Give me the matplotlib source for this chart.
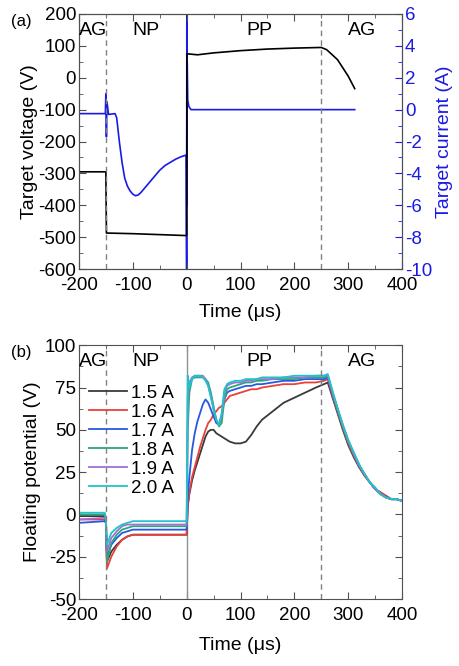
import numpy as np
import matplotlib.pyplot as plt
from matplotlib.ticker import MultipleLocator

plt.rcParams['font.family'] = ['Liberation Sans', 'DejaVu Sans']
plt.rcParams['font.size'] = 13.5
plt.rcParams['axes.unicode_minus'] = False

# ---- panel (a): target voltage / current ----
t_volt = [-200, -150, -149, -100, -50, 0, 0.5, 2, 20, 50, 100, 150, 200, 250, 260, 280, 300, 312]
volt = [-295, -295, -487, -489, -492, -495, 75, 75, 72, 78, 85, 90, 93, 95, 88, 57, 5, -34]

t_curr = [-200, -155, -151, -150, -149, -148, -145, -133, -130, -125, -120, -115, -110, -105,
          -100, -95, -90, -85, -80, -70, -60, -50, -40, -30, -20, -10, -1,
          0, 0.3, 0.6, 1, 2, 4, 8, 20, 100, 200, 312]
curr = [-0.25, -0.25, -0.25, 1.0, -1.7, 0.5, -0.3, -0.25, -0.5, -2.0, -3.3, -4.3, -4.8, -5.1,
        -5.3, -5.4, -5.35, -5.2, -5.0, -4.6, -4.2, -3.8, -3.5, -3.3, -3.1, -2.95, -2.85,
        -10, 6, -6, 3, 0.6, 0.2, 0, 0, 0, 0, 0]

# ---- panel (b): floating potential ----
t_float = [-200, -152, -150, -148, -140, -130, -120, -110, -100, -80, -50, -1, 0, 2, 5, 10, 15, 20,
           25, 30, 35, 40, 45, 50, 55, 60, 65, 70, 75, 80, 90, 100, 110, 120, 130, 140, 160, 180,
           200, 220, 240, 255, 262, 270, 280, 290, 300, 310, 320, 330, 340, 350, 360, 370, 380,
           390, 400]
labels = ['1.5 A', '1.6 A', '1.7 A', '1.8 A', '1.9 A', '2.0 A']
colors = ['#3a3a3a', '#e8403a', '#2858e0', '#2aa87a', '#a070d8', '#1ec4c8']
fp_15 = [-1, -1, -5, -28, -22, -18, -15, -13, -12, -12, -12, -12, -12, 5, 12, 20, 26, 31,
         36, 41, 46, 49, 50, 50, 48, 47, 46, 45, 44, 43, 42, 42, 43, 47, 52, 56, 61, 66,
         69, 72, 75, 77, 78, 70, 60, 50, 41, 34, 28, 23, 19, 15, 13, 11, 9, 9, 8]
fp_16 = [-3, -3, -5, -32, -25, -19, -15, -13, -12, -12, -12, -12, -12, 5, 13, 22, 28, 34,
         40, 45, 50, 54, 56, 59, 61, 63, 64, 66, 68, 70, 71, 72, 73, 74, 74, 75, 76, 77,
         77, 78, 78, 79, 80, 71, 61, 51, 42, 35, 29, 23, 19, 15, 13, 11, 9, 9, 8]
fp_17 = [-5, -4, -5, -25, -18, -14, -11, -10, -9, -9, -9, -9, -9, 10, 22, 38, 48, 55,
         60, 65, 68, 66, 62, 58, 54, 53, 58, 68, 72, 73, 74, 75, 76, 76, 77, 77, 78, 79,
         79, 80, 80, 80, 81, 72, 62, 52, 43, 36, 29, 24, 19, 15, 12, 10, 9, 9, 8]
fp_18 = [0, 0, -3, -28, -17, -12, -9, -8, -7, -7, -7, -7, -7, 50, 72, 80, 81, 81,
         81, 81, 80, 78, 72, 64, 56, 52, 54, 68, 74, 75, 76, 77, 78, 78, 79, 79, 80, 80,
         80, 81, 81, 81, 82, 73, 62, 52, 43, 36, 29, 24, 19, 15, 12, 10, 9, 9, 8]
fp_19 = [-3, -2, -3, -22, -14, -10, -7, -6, -6, -6, -6, -6, -6, 70, 78, 81, 82, 82,
         82, 82, 80, 76, 70, 62, 56, 53, 58, 72, 76, 77, 78, 78, 79, 79, 80, 80, 80, 81,
         81, 81, 82, 82, 82, 73, 63, 53, 44, 36, 29, 24, 19, 15, 12, 10, 9, 9, 8]
fp_20 = [1, 1, -2, -18, -11, -8, -6, -5, -4, -4, -4, -4, -4, 82, 75, 80, 82, 82,
         82, 81, 79, 76, 69, 62, 56, 53, 60, 74, 77, 78, 79, 79, 80, 80, 80, 81, 81, 81,
         82, 82, 82, 82, 83, 74, 63, 53, 44, 37, 30, 24, 19, 16, 12, 10, 9, 9, 8]
fp_all = [fp_15, fp_16, fp_17, fp_18, fp_19, fp_20]

regions = ['AG', 'NP', 'PP', 'AG']
region_x = [-173, -76, 135, 326]
bounds = [-150, 250]

blue = '#1a1ae6'
frame = '#505050'

fig = plt.figure(figsize=(4.59, 6.66), dpi=100)
ax1 = fig.add_axes([0.172, 0.596, 0.704, 0.383])
ax2 = fig.add_axes([0.172, 0.1006, 0.704, 0.381])


def style(ax, right=True, xpad=8):
    for s in ax.spines.values():
        s.set_color(frame)
    ax.tick_params(which='both', direction='in', top=True, right=right, colors=frame,
                   labelcolor='black', labelsize=13.5)
    ax.tick_params(which='major', length=5)
    ax.tick_params(which='minor', length=3)
    ax.tick_params(axis='x', pad=6)
    ax.tick_params(axis='y', pad=2)
    ax.set_xlim(-200, 400)
    ax.xaxis.set_major_locator(MultipleLocator(100))
    ax.xaxis.set_minor_locator(MultipleLocator(50))
    for b in bounds:
        ax.axvline(b, color='#808080', ls='--', lw=1, dashes=(4, 3))
    for r, x in zip(regions, region_x):
        ax.text(x, 0.937, r, transform=ax.get_xaxis_transform(), ha='center', va='center', fontsize=14)
    ax.set_xlabel('Time (μs)', fontsize=14, labelpad=xpad)


# (a)
ax1.plot(t_volt, volt, color='black', lw=1.2)
ax1.set_ylim(-600, 200)
ax1.yaxis.set_major_locator(MultipleLocator(100))
ax1.yaxis.set_minor_locator(MultipleLocator(50))
ax1.set_ylabel('Target voltage (V)', fontsize=14, labelpad=0)
style(ax1, right=False, xpad=7)

ax1r = ax1.twinx()
ax1r.plot(t_curr, curr, color=blue, lw=1.2)
ax1r.set_ylim(-10, 6)
ax1r.yaxis.set_major_locator(MultipleLocator(2))
ax1r.yaxis.set_minor_locator(MultipleLocator(1))
ax1r.tick_params(which='both', direction='in', colors=blue, labelsize=13.5, pad=2)
ax1r.tick_params(which='major', length=5)
ax1r.tick_params(which='minor', length=3)
for k, s in ax1r.spines.items():
    s.set_color(blue if k == 'right' else frame)
ax1r.set_ylabel('Target current (A)', color=blue, fontsize=14, labelpad=3)
ax1.set_zorder(ax1r.get_zorder() + 1)
ax1.patch.set_visible(False)

# (b)
ax2.axvline(0, color='#909090', lw=1)
for vals, lab, c in zip(fp_all, labels, colors):
    ax2.plot(t_float, vals, color=c, lw=1.3, label=lab)
ax2.set_ylim(-50, 100)
ax2.yaxis.set_major_locator(MultipleLocator(25))
ax2.yaxis.set_minor_locator(MultipleLocator(12.5))
ax2.set_ylabel('Floating potential (V)', fontsize=14, labelpad=3)
style(ax2, xpad=9)
ax2.legend(loc='upper left', bbox_to_anchor=(0.0, 0.885), frameon=False, fontsize=13.5,
           handlelength=2.0, handletextpad=0.25, labelspacing=0.1, borderaxespad=0.15)

fig.text(0.025, 0.967, '(a)', fontsize=12, va='center')
fig.text(0.025, 0.47, '(b)', fontsize=12, va='center')

fig.savefig('out.png', dpi=100)
